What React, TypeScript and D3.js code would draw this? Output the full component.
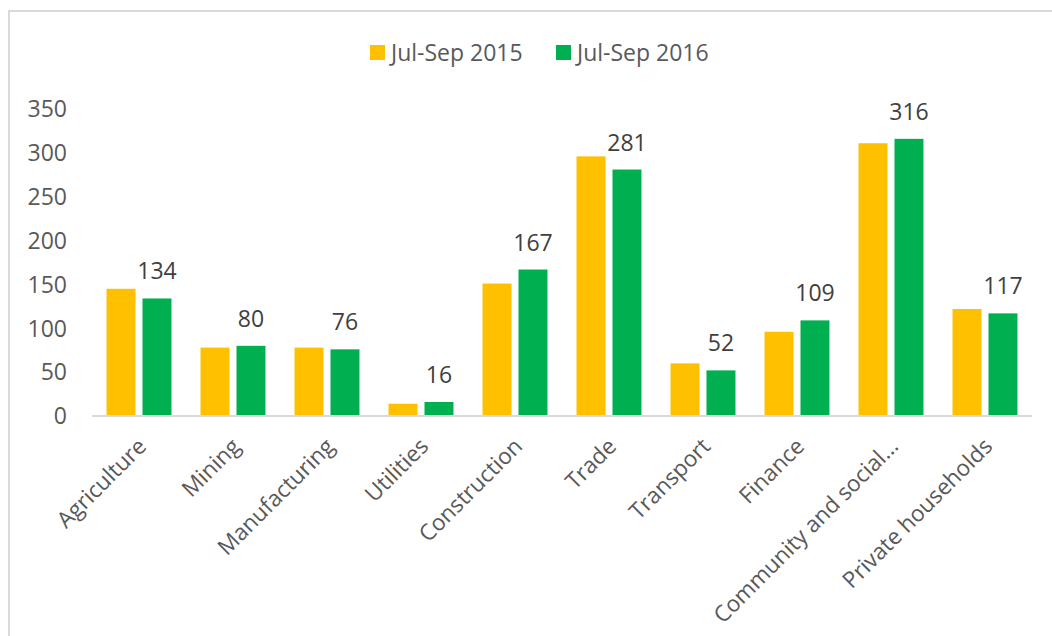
import React, { useRef, useEffect } from "react";
import * as d3 from "d3";

// values
const categories = [
  "Agriculture",
  "Mining",
  "Manufacturing",
  "Utilities",
  "Construction",
  "Trade",
  "Transport",
  "Finance",
  "Community and social…",
  "Private households",
];
const series2015 = [145, 78, 78, 14, 151, 296, 60, 96, 311, 122];
const series2016 = [134, 80, 76, 16, 167, 281, 52, 109, 316, 117];
const seriesNames = ["Jul-Sep 2015", "Jul-Sep 2016"];
const yTicks = [0, 50, 100, 150, 200, 250, 300, 350];

const colors = ["#FFC000", "#00B050"];
const font = "'Open Sans', 'Noto Sans', sans-serif";
const fontSize = 23;

const App = () => {
  const ref = useRef(null);

  useEffect(() => {
    if (!ref.current) return;
    const svg = d3.select(ref.current);
    svg.selectAll("*").remove();

    const width = 1052;
    const height = 636;

    // chart frame (cut off on the right and bottom)
    svg
      .append("rect")
      .attr("x", 9)
      .attr("y", 11)
      .attr("width", width + 20)
      .attr("height", height + 20)
      .attr("fill", "white")
      .attr("stroke", "#d9d9d9")
      .attr("stroke-width", 2);

    const margins = { left: 92, top: 109 };
    const plotRight = 1032;
    const y0 = 416;

    const x0 = d3
      .scaleBand()
      .domain(categories)
      .range([margins.left, plotRight])
      .paddingInner(0.309)
      .paddingOuter(0.1545);

    const x1 = d3
      .scaleBand()
      .domain(seriesNames)
      .range([0, x0.bandwidth()])
      .paddingInner(0.194);

    const y = d3.scaleLinear().domain([0, 350]).range([y0, margins.top]);

    // y tick labels
    svg
      .append("g")
      .selectAll("text")
      .data(yTicks)
      .join("text")
      .attr("x", 67)
      .attr("y", (d) => y(d))
      .attr("dy", "0.36em")
      .attr("text-anchor", "end")
      .attr("font-family", font)
      .attr("font-size", fontSize)
      .attr("fill", "#595959")
      .text((d) => d);

    const data = categories.map((c, i) => ({
      cat: c,
      values: [
        { name: seriesNames[0], value: series2015[i], k: 0 },
        { name: seriesNames[1], value: series2016[i], k: 1 },
      ],
    }));

    const groups = svg
      .append("g")
      .selectAll("g")
      .data(data)
      .join("g")
      .attr("transform", (d) => `translate(${x0(d.cat)},0)`);

    groups
      .selectAll("rect")
      .data((d) => d.values)
      .join("rect")
      .attr("x", (d) => x1(d.name))
      .attr("y", (d) => y(d.value))
      .attr("width", x1.bandwidth())
      .attr("height", (d) => y0 - y(d.value))
      .attr("fill", (d) => colors[d.k]);

    // data labels on the 2016 series only
    groups
      .append("text")
      .attr("x", x1(seriesNames[1]) + x1.bandwidth() / 2)
      .attr("y", (d) => y(d.values[1].value) - 19)
      .attr("text-anchor", "middle")
      .attr("font-family", font)
      .attr("font-size", fontSize)
      .attr("fill", "#404040")
      .text((d) => d.values[1].value);

    // x axis line
    svg
      .append("line")
      .attr("x1", margins.left)
      .attr("x2", plotRight)
      .attr("y1", y0)
      .attr("y2", y0)
      .attr("stroke", "#d9d9d9")
      .attr("stroke-width", 2);

    // rotated category labels
    svg
      .append("g")
      .selectAll("text")
      .data(categories)
      .join("text")
      .attr(
        "transform",
        (d) => `translate(${x0(d) + x0.bandwidth() / 2 + 3},${y0 + 26}) rotate(-45)`
      )
      .attr("text-anchor", "end")
      .attr("dy", "0.36em")
      .attr("font-family", font)
      .attr("font-size", 22.5)
      .attr("fill", "#595959")
      .text((d) => d);

    // legend
    const legendX = [370, 556];
    const legend = svg
      .append("g")
      .selectAll("g")
      .data(seriesNames)
      .join("g")
      .attr("transform", (d, i) => `translate(${legendX[i]},45)`);
    legend
      .append("rect")
      .attr("width", 15)
      .attr("height", 15)
      .attr("fill", (d, i) => colors[i]);
    legend
      .append("text")
      .attr("x", 21)
      .attr("y", 7.5)
      .attr("dy", "0.36em")
      .attr("font-family", font)
      .attr("font-size", fontSize)
      .attr("fill", "#595959")
      .text((d) => d);
  }, []);

  return (
    <div style={{ position: "absolute", left: 0, top: 0 }}>
      <svg ref={ref} width={1052} height={636} style={{ display: "block" }} />
    </div>
  );
};

export default App;
